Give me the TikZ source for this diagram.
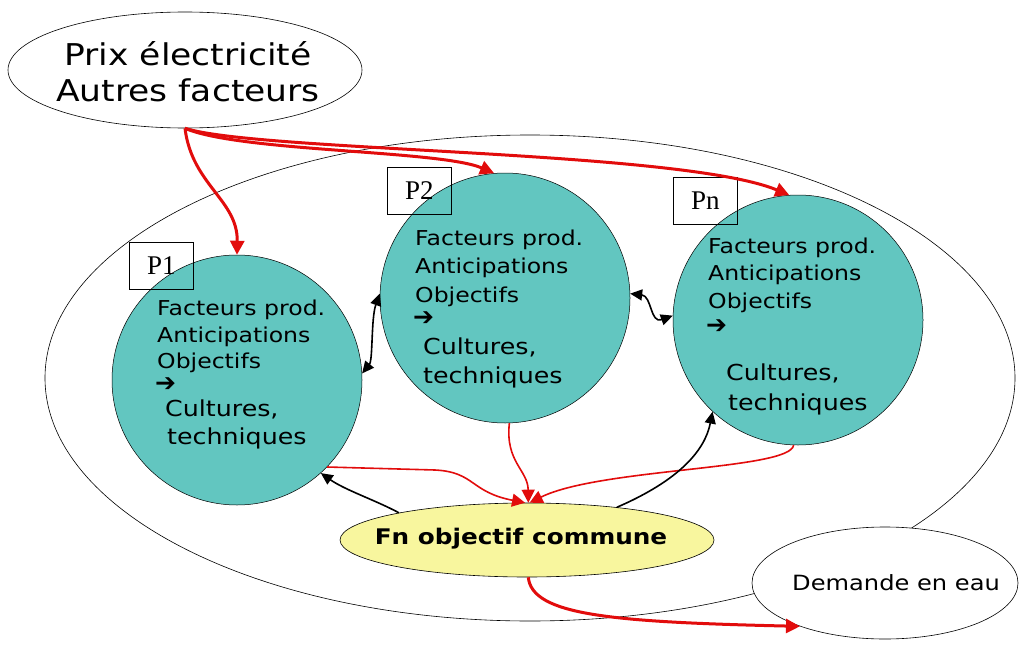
\documentclass[tikz,border=0pt]{standalone}
\usepackage{fontspec}
\setmainfont{DejaVu Sans}[FakeStretch=1.15]
\newfontfamily\serif{Liberation Serif}
\newfontfamily\arrowfont{DejaVu Sans}
\usetikzlibrary{arrows.meta,shapes.geometric}
\definecolor{teal2}{RGB}{98,198,192}
\definecolor{pale}{RGB}{248,246,158}
\definecolor{rouge}{RGB}{226,12,12}
\begin{document}
\begin{tikzpicture}[x=1pt,y=-1pt,
  oval/.style={ellipse,draw=black,line width=0.6pt,inner sep=0pt},
  pcirc/.style={circle,draw=black,line width=0.5pt,fill=teal2,minimum size=250pt,inner sep=0pt},
  lblbox/.style={draw=black,line width=0.6pt,minimum width=64pt,minimum height=47pt,inner sep=0pt,anchor=north west,font=\serif\fontsize{27}{27}\selectfont},
  ln/.style={anchor=base west,inner sep=0pt,font=\fontsize{20.5}{20.5}\selectfont},
  lnbig/.style={anchor=base west,inner sep=0pt,font=\fontsize{22}{22}\selectfont},
  arr/.style={anchor=west,inner sep=0pt,font=\arrowfont\fontsize{25}{25}\selectfont},
  redthick/.style={draw=rouge,line width=3pt,-{Triangle[length=14pt,width=14pt]}},
  redthin/.style={draw=rouge,line width=1.6pt,-{Triangle[length=13pt,width=13pt]}},
  blk/.style={draw=black,line width=1.6pt,-{Triangle[length=12pt,width=11pt]}},
  blk2/.style={draw=black,line width=1.6pt,{Triangle[length=12pt,width=11pt]}-{Triangle[length=12pt,width=11pt]}}
]
\useasboundingbox (0,0) rectangle (1020,650);
\fill[white] (0,0) rectangle (1020,650);

% big ellipse
\node[oval,minimum width=970pt,minimum height=486pt] (world) at (530,378) {};

% top ellipse
\node[oval,minimum width=354pt,minimum height=116pt] (top) at (185,70) {};
\node[align=center,inner sep=0pt,font=\fontsize{30}{36}\selectfont] (toptxt) at (188,72) {Prix électricité\\Autres facteurs};

% demand ellipse
\node[oval,fill=white,minimum width=266pt,minimum height=112pt] (dem) at (885,583) {};
\node[anchor=base west,inner sep=0pt,font=\fontsize{21}{21}\selectfont] (demtxt) at (792,590) {Demande en eau};

% common objective
\node[oval,fill=pale,minimum width=374pt,minimum height=74pt] (fn) at (527,540) {};
\node[inner sep=0pt,font=\bfseries\fontsize{21.5}{21.5}\selectfont] (fntxt) at (521,539) {Fn objectif commune};

% circles
\node[pcirc] (p1) at (237,380) {};
\node[pcirc] (p2) at (505,298) {};
\node[pcirc] (pn) at (798,320) {};

% label boxes
\node[lblbox] (b1) at (129,242) {P1};
\node[lblbox] (b2) at (387,167) {P2};
\node[lblbox] (bn) at (673,177) {Pn};

% texts P1
\node[ln] (p1a) at (157,315) {Facteurs prod.};
\node[ln] (p1b) at (157,342) {Anticipations};
\node[ln] (p1c) at (157,368) {Objectifs};
\node[arr] (p1d) at (155,385) {➔};
\node[lnbig] (p1e) at (165,416) {Cultures,};
\node[lnbig] (p1f) at (167,444) {techniques};

% texts P2
\node[ln] (p2a) at (415,245) {Facteurs prod.};
\node[ln] (p2b) at (415,273) {Anticipations};
\node[ln] (p2c) at (415,302) {Objectifs};
\node[arr] (p2d) at (413,319) {➔};
\node[lnbig] (p2e) at (423,354) {Cultures,};
\node[lnbig] (p2f) at (423,383) {techniques};

% texts Pn
\node[ln] (pna) at (708,253) {Facteurs prod.};
\node[ln] (pnb) at (708,280) {Anticipations};
\node[ln] (pnc) at (708,308) {Objectifs};
\node[arr] (pnd) at (706,327) {➔};
\node[lnbig] (pne) at (726,380) {Cultures,};
\node[lnbig] (pnf) at (728,410) {techniques};

% red thick arrows from top
\draw[redthick] (top.south) .. controls (192,185) and (238,200) .. (p1.north);
\draw[redthick] (top.south) .. controls (240,152) and (440,150) .. (p2.95);
\draw[redthick] (top.south) .. controls (260,152) and (680,150) .. (pn.94);

% red thin arrows to fn
\draw[redthin] (p1.-44) -- (435,470) .. controls (475,472) and (470,492) .. (fn.93);
\draw[redthin] (p2.-88) .. controls (505,462) and (528,470) .. (fn.88);
\draw[redthin] (pn.-92) .. controls (790,470) and (600,468) .. (fn.86);

% black arrows
\draw[blk] (fn.168) .. controls (375,500) and (345,490) .. (p1.-48);
\draw[blk] (fn.20) .. controls (680,480) and (705,450) .. (pn.-133);
\draw[blk2] (p1.3) .. controls (373,360) and (371,318) .. (p2.178);
\draw[blk2] (p2.2) .. controls (652,296) and (650,324) .. (pn.178);

% to demand
\draw[redthick] (fn.-88) .. controls (532,615) and (610,622) .. (dem.207);
\end{tikzpicture}
\end{document}
